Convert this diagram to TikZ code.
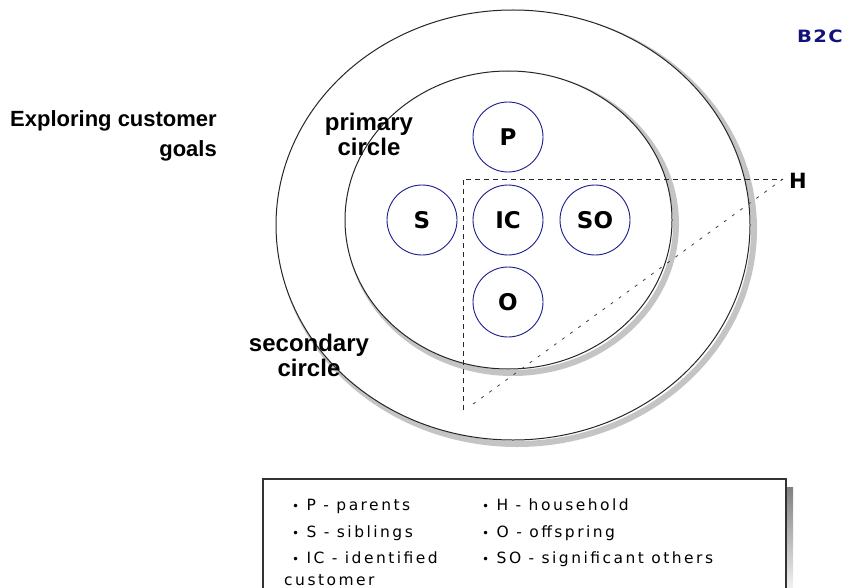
\documentclass[tikz,border=0pt]{standalone}
\usepackage{fontspec}
\setmainfont{Liberation Sans}
\newfontfamily\markfont{DejaVu Sans}
\newfontfamily\legendfont{DejaVu Sans}[LetterSpace=16]
\newfontfamily\tagfont{DejaVu Sans}[LetterSpace=8, FakeStretch=1.15]
\definecolor{circleblue}{HTML}{1C1C8E}
\definecolor{tagnavy}{HTML}{12127A}
\definecolor{shade}{HTML}{C4C4C4}
\newcommand{\legendbullet}{{\fontsize{12}{12}\selectfont•}}
\begin{document}
\begin{tikzpicture}[x=1pt,y=-1pt,
  ringline/.style={draw=black!85, line width=1pt, fill=white},
  ringshadow/.style={draw=shade, line width=6pt},
  member/.style={circle, draw=circleblue, line width=0.9pt, minimum size=70pt,
    inner sep=0pt, font=\markfont\bfseries\fontsize{23}{23}\selectfont},
  guide/.style={draw=black!85, line width=0.9pt, dash pattern=on 5pt off 4pt},
  slant/.style={draw=black!75, line width=0.8pt, dash pattern=on 3pt off 7pt},
  ringtext/.style={align=center, inner sep=0pt, font=\bfseries\fontsize{24}{25}\selectfont},
  legendtext/.style={anchor=base west, inner sep=0pt,
    font=\legendfont\fontsize{15.5}{15.5}\selectfont}]
\useasboundingbox (0,0) rectangle (845,588);

% secondary circle with its shadow
\draw[ringshadow] (517,229) ellipse [x radius=237, y radius=215];
\draw[ringline] (513,225) ellipse [x radius=237, y radius=215];
% primary circle with its shadow
\draw[ringshadow] (512.5,224) ellipse [x radius=163.5, y radius=149];
\draw[ringline] (508.5,220) ellipse [x radius=163.5, y radius=149];

% members around the identified customer
\node[member] (ic) at (508,220) {IC};
\node[member] (p)  at (508,137) {P};
\node[member] (s)  at (422,220) {S};
\node[member] (so) at (595,220) {SO};
\node[member] (o)  at (508,302) {O};

% household wedge
\coordinate (hc) at (463,179);
\coordinate (hb) at (463,410);
\coordinate (ht) at (783,179);
\coordinate (hs) at (469,407);
\draw[guide] (hb) -- (hc) -- (ht);
\draw[slant] (ht) -- (hs);
\node[anchor=west, inner sep=0pt, font=\markfont\bfseries\fontsize{21}{21}\selectfont] (h) at (789,181) {H};

% ring labels (anchored on the baseline of their second line)
\node[ringtext, anchor=base] (prim) at (369,156) {primary\\circle};
\node[ringtext, anchor=base] (sec) at (309,376) {secondary\\circle};

% heading and tag
\node[anchor=base east, inner sep=0pt, align=right,
  font=\bfseries\fontsize{22}{30}\selectfont] (title) at (217,157) {Exploring customer\\goals};
\node[anchor=base east, inner sep=0pt, text=tagnavy,
  font=\tagfont\bfseries\fontsize{17}{17}\selectfont] (tag) at (843,43) {B2C};

% legend box
\fill[shade] (270,487) rectangle (793,600);
\draw[draw=black!80, line width=1.5pt, fill=white] (263,479) rectangle (786,600);
\node[legendtext] (l1) at (292,510) {\legendbullet{} P - parents};
\node[legendtext] (l2) at (292,537) {\legendbullet{} S - siblings};
\node[legendtext] (l3) at (292,563) {\legendbullet{} IC - identified};
\node[legendtext] (l4) at (284,585) {customer};
\node[legendtext] (r1) at (482,510) {\legendbullet{} H - household};
\node[legendtext] (r2) at (482,537) {\legendbullet{} O - offspring};
\node[legendtext] (r3) at (482,563) {\legendbullet{} SO - significant others};
\end{tikzpicture}
\end{document}
